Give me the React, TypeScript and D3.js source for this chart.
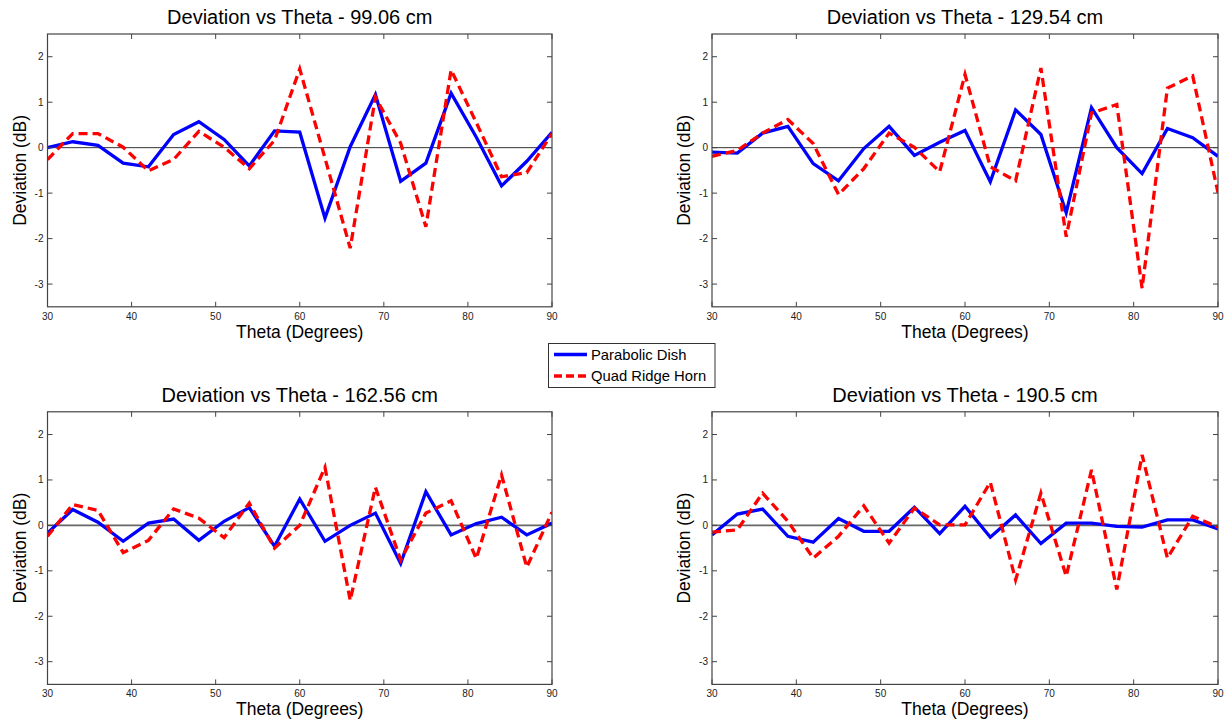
import { useEffect, useRef } from "react";
import * as d3 from "d3";

// theta sample points (degrees)
const theta = [30, 33, 36, 39, 42, 45, 48, 51, 54, 57, 60, 63, 66, 69, 72, 75, 78, 81, 84, 87, 90];

const distances = ["99.06", "129.54", "162.56", "190.5"];
const seriesNames = ["Parabolic Dish", "Quad Ridge Horn"];

// deviation (dB) per distance
const dish99 = [0.0, 0.13, 0.05, -0.34, -0.42, 0.29, 0.57, 0.18, -0.4, 0.37, 0.34, -1.55, 0.02, 1.17, -0.74, -0.34, 1.2, 0.23, -0.84, -0.3, 0.34];
const horn99 = [-0.26, 0.31, 0.31, 0.01, -0.51, -0.26, 0.36, 0.01, -0.46, 0.16, 1.73, -0.23, -2.21, 1.11, 0.1, -1.74, 1.71, 0.55, -0.64, -0.55, 0.31];

const dish129 = [-0.1, -0.12, 0.32, 0.47, -0.35, -0.73, -0.02, 0.47, -0.17, 0.12, 0.38, -0.75, 0.83, 0.29, -1.43, 0.88, 0.0, -0.57, 0.42, 0.22, -0.19];
const horn129 = [-0.19, -0.06, 0.32, 0.62, 0.09, -1.03, -0.46, 0.32, 0.01, -0.53, 1.61, -0.42, -0.73, 1.75, -1.96, 0.76, 0.95, -3.09, 1.31, 1.58, -0.99];

const dish162 = [-0.17, 0.35, 0.07, -0.35, 0.05, 0.14, -0.33, 0.09, 0.39, -0.46, 0.58, -0.35, 0.0, 0.27, -0.84, 0.74, -0.21, 0.04, 0.18, -0.21, 0.05];
const horn162 = [-0.24, 0.46, 0.33, -0.6, -0.33, 0.36, 0.16, -0.27, 0.49, -0.5, 0.0, 1.28, -1.65, 0.84, -0.76, 0.27, 0.54, -0.73, 1.11, -0.92, 0.29];

const dish190 = [-0.21, 0.25, 0.36, -0.24, -0.37, 0.15, -0.13, -0.13, 0.4, -0.18, 0.42, -0.26, 0.23, -0.4, 0.05, 0.05, -0.02, -0.04, 0.12, 0.12, -0.08];
const horn190 = [-0.15, -0.1, 0.71, 0.09, -0.72, -0.24, 0.43, -0.39, 0.38, 0.01, 0.01, 0.95, -1.2, 0.71, -1.12, 1.22, -1.41, 1.55, -0.72, 0.2, -0.04];

const xTicks = [30, 40, 50, 60, 70, 80, 90];
const yTicks = [-3, -2, -1, 0, 1, 2];

const FONT = "'Liberation Sans', Arial, sans-serif";

export default function App() {
  const svgRef = useRef<SVGSVGElement>(null);

  useEffect(() => {
    document.body.style.margin = "0";
    const svg = d3.select(svgRef.current);
    svg.selectAll("*").remove();

    const panels = [
      { dist: distances[0], dish: dish99, horn: horn99, x0: 47.5, x1: 552, y0: 34, y1: 306.8 },
      { dist: distances[1], dish: dish129, horn: horn129, x0: 712, x1: 1218, y0: 34, y1: 306.8 },
      { dist: distances[2], dish: dish162, horn: horn162, x0: 47.5, x1: 552, y0: 411.8, y1: 684.4 },
      { dist: distances[3], dish: dish190, horn: horn190, x0: 712, x1: 1218, y0: 411.8, y1: 684.4 },
    ];

    panels.forEach((p, i) => {
      const x = d3.scaleLinear().domain([30, 90]).range([p.x0, p.x1]);
      const y = d3.scaleLinear().domain([-3.5, 2.5]).range([p.y1, p.y0]);
      const g = svg.append("g");

      // clip
      svg
        .append("defs")
        .append("clipPath")
        .attr("id", "clip" + i)
        .append("rect")
        .attr("x", p.x0)
        .attr("y", p.y0)
        .attr("width", p.x1 - p.x0)
        .attr("height", p.y1 - p.y0);

      // zero line
      g.append("line")
        .attr("x1", p.x0)
        .attr("x2", p.x1)
        .attr("y1", y(0))
        .attr("y2", y(0))
        .attr("stroke", i < 2 ? "#333" : "#666")
        .attr("stroke-width", i < 2 ? 1 : 1.6);

      const line = d3
        .line<number>()
        .x((d, k) => x(theta[k]))
        .y((d) => y(d));

      const content = g.append("g").attr("clip-path", "url(#clip" + i + ")");
      content
        .append("path")
        .attr("d", line(p.dish))
        .attr("fill", "none")
        .attr("stroke", "#0000ff")
        .attr("stroke-width", 3.3)
        .attr("stroke-linejoin", "miter");
      content
        .append("path")
        .attr("d", line(p.horn))
        .attr("fill", "none")
        .attr("stroke", "#ff0000")
        .attr("stroke-width", 3.3)
        .attr("stroke-dasharray", "9,5");

      // frame
      g.append("rect")
        .attr("x", p.x0)
        .attr("y", p.y0)
        .attr("width", p.x1 - p.x0)
        .attr("height", p.y1 - p.y0)
        .attr("fill", "none")
        .attr("stroke", "#444")
        .attr("stroke-width", 1.2);

      // inward ticks
      xTicks.forEach((t) => {
        g.append("line").attr("x1", x(t)).attr("x2", x(t)).attr("y1", p.y1).attr("y2", p.y1 - 5).attr("stroke", "#444");
        g.append("line").attr("x1", x(t)).attr("x2", x(t)).attr("y1", p.y0).attr("y2", p.y0 + 5).attr("stroke", "#444");
      });
      yTicks.forEach((t) => {
        g.append("line").attr("x1", p.x0).attr("x2", p.x0 + 5).attr("y1", y(t)).attr("y2", y(t)).attr("stroke", "#444");
        g.append("line").attr("x1", p.x1).attr("x2", p.x1 - 5).attr("y1", y(t)).attr("y2", y(t)).attr("stroke", "#444");
      });

      // tick labels
      g.selectAll(".xt")
        .data(xTicks)
        .join("text")
        .attr("x", (d) => x(d))
        .attr("y", p.y1 + 13)
        .attr("text-anchor", "middle")
        .attr("font-family", FONT)
        .attr("font-size", 10)
        .attr("fill", "#222")
        .text((d) => d);
      g.selectAll(".yt")
        .data(yTicks)
        .join("text")
        .attr("x", p.x0 - 4)
        .attr("y", (d) => y(d) + 3.5)
        .attr("text-anchor", "end")
        .attr("font-family", FONT)
        .attr("font-size", 10)
        .attr("fill", "#222")
        .text((d) => d);

      // title
      g.append("text")
        .attr("x", (p.x0 + p.x1) / 2)
        .attr("y", p.y0 - 10)
        .attr("text-anchor", "middle")
        .attr("font-family", FONT)
        .attr("font-size", 20)
        .attr("fill", "#000")
        .text("Deviation vs Theta - " + p.dist + " cm");

      // axis labels
      g.append("text")
        .attr("x", (p.x0 + p.x1) / 2)
        .attr("y", p.y1 + 31)
        .attr("text-anchor", "middle")
        .attr("font-family", FONT)
        .attr("font-size", 17.5)
        .attr("fill", "#000")
        .text("Theta (Degrees)");
      g.append("text")
        .attr("transform", "translate(" + (p.x0 - 22) + "," + (p.y0 + p.y1) / 2 + ") rotate(-90)")
        .attr("text-anchor", "middle")
        .attr("font-family", FONT)
        .attr("font-size", 17.5)
        .attr("fill", "#000")
        .text("Deviation (dB)");
    });

    // legend
    const legend = svg.append("g");
    legend
      .append("rect")
      .attr("x", 548.5)
      .attr("y", 343.5)
      .attr("width", 166.5)
      .attr("height", 44)
      .attr("fill", "#fff")
      .attr("stroke", "#333")
      .attr("stroke-width", 1);
    seriesNames.forEach((name, k) => {
      const ly = 354.5 + k * 21.5;
      legend
        .append("line")
        .attr("x1", 554)
        .attr("x2", 587)
        .attr("y1", ly)
        .attr("y2", ly)
        .attr("stroke", k === 0 ? "#0000ff" : "#ff0000")
        .attr("stroke-width", 3.3)
        .attr("stroke-dasharray", k === 0 ? null : "8,4");
      legend
        .append("text")
        .attr("x", 591)
        .attr("y", ly + 5)
        .attr("font-family", FONT)
        .attr("font-size", 14.8)
        .attr("fill", "#000")
        .text(name);
    });
  }, []);

  return <svg ref={svgRef} width={1226} height={724} style={{ display: "block", background: "#fff" }} />;
}
